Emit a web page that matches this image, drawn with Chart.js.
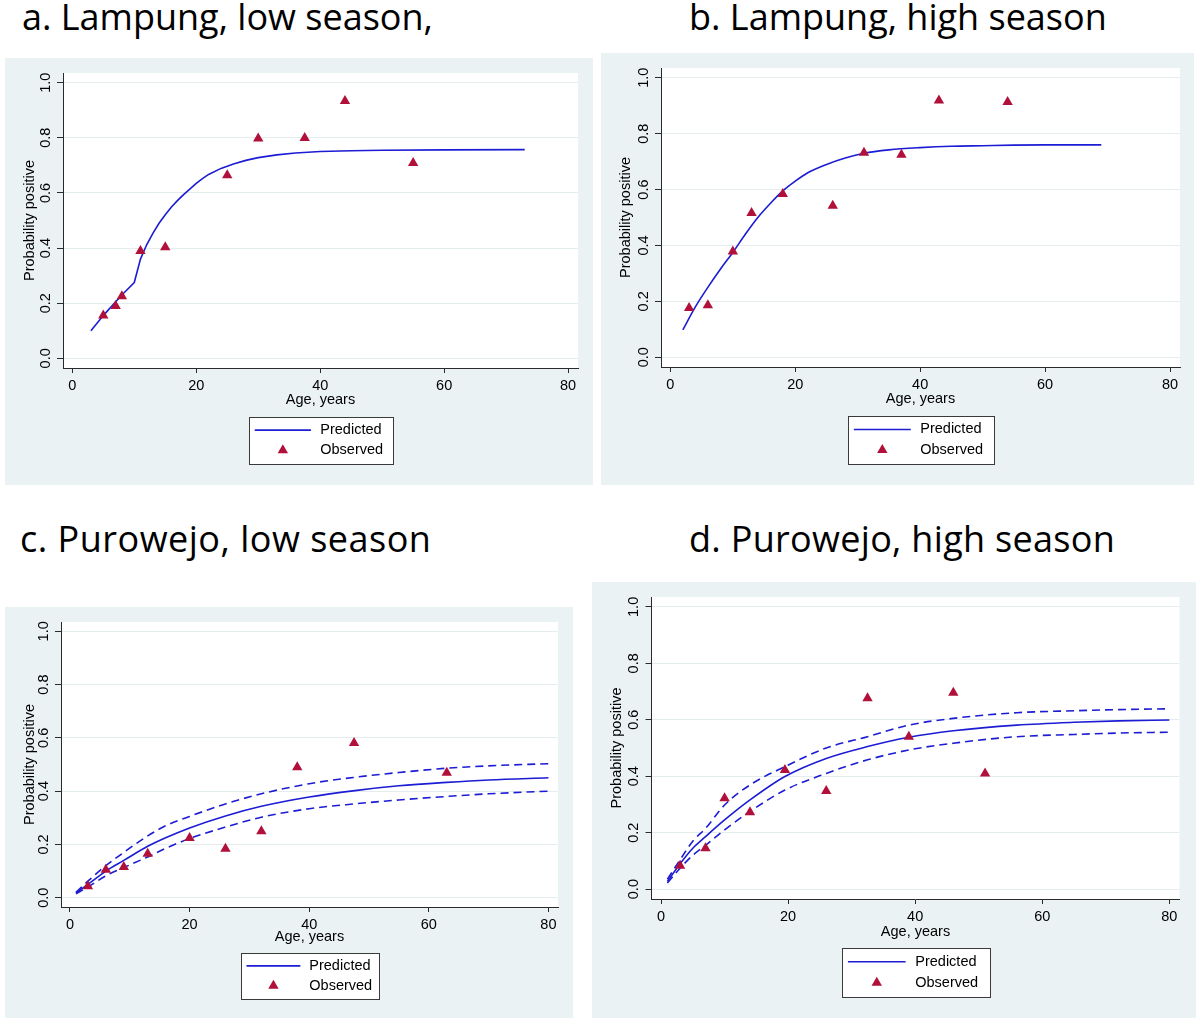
<!DOCTYPE html>
<html>
<head>
<meta charset="utf-8">
<title>Probability positive by age</title>
<script src="https://cdn.jsdelivr.net/npm/chart.js@4.4.1/dist/chart.umd.min.js"></script>
<style>
  body { margin: 0; background: #fff; }
  #page { position: relative; width: 1200px; height: 1024px; overflow: hidden; }
  .title { position: absolute; font-family: "Open Sans", sans-serif; font-size: 36px; line-height: 40px; color: #000; white-space: nowrap; }
  .panel { position: absolute; }
</style>
</head>
<body>
<div id="page">
  <div class="title" style="left:22px; top:-3px">a. Lampung, low season,</div>
  <div class="title" style="left:689px; top:-3px">b. Lampung, high season</div>
  <div class="title" style="left:20px; top:519px; letter-spacing:0.5px">c. Purowejo, low season</div>
  <div class="title" style="left:689px; top:519px; letter-spacing:0.3px">d. Purowejo, high season</div>

  <div class="panel" style="left:5px; top:58px; width:588px; height:427px"><canvas id="chartA"></canvas></div>
  <div class="panel" style="left:601px; top:53px; width:593px; height:432px"><canvas id="chartB"></canvas></div>
  <div class="panel" style="left:5px; top:607px; width:568px; height:411px"><canvas id="chartC"></canvas></div>
  <div class="panel" style="left:592px; top:582px; width:604px; height:436px"><canvas id="chartD"></canvas></div>
</div>

<script>
// axis ticks
const xTicks = [0, 20, 40, 60, 80];
const yTicks = [0, 0.2, 0.4, 0.6, 0.8, 1.0];

// a. Lampung, low season
const aObsAge = [5, 7, 8, 11, 15, 25, 30, 37.5, 44, 55];
const aObs = [0.155, 0.19, 0.225, 0.389, 0.403, 0.664, 0.797, 0.799, 0.933, 0.709];
const aFitAge = [3, 5, 7, 8, 10, 11, 12, 13, 14, 15, 16, 17, 18, 19, 20, 21, 22, 24, 26, 28, 30, 33, 36, 40, 45, 50, 60, 73];
const aFit = [0.10, 0.155, 0.205, 0.23, 0.275, 0.36, 0.412, 0.453, 0.49, 0.521, 0.549, 0.573, 0.595, 0.615, 0.635, 0.652, 0.667, 0.689, 0.705, 0.718, 0.728, 0.738, 0.745, 0.75, 0.753, 0.755, 0.756, 0.757];

// b. Lampung, high season
const bObsAge = [3, 6, 10, 13, 18, 26, 31, 37, 43, 54];
const bObs = [0.176, 0.186, 0.378, 0.516, 0.584, 0.542, 0.732, 0.725, 0.919, 0.913];
const bFitAge = [2, 4, 6, 8, 10, 12, 14, 16, 18, 20, 22, 25, 28, 31, 35, 40, 45, 50, 55, 60, 69];
const bFit = [0.098, 0.18, 0.25, 0.315, 0.375, 0.44, 0.50, 0.55, 0.595, 0.63, 0.66, 0.69, 0.713, 0.73, 0.742, 0.75, 0.755, 0.757, 0.759, 0.76, 0.76];

// c. Purowejo, low season
const cObsAge = [3, 6, 9, 13, 20, 26, 32, 38, 47.5, 63];
const cObs = [0.043, 0.105, 0.115, 0.165, 0.224, 0.184, 0.249, 0.49, 0.581, 0.469];
const cFitAge = [1, 3, 6, 9, 13, 16, 20, 26, 32, 40, 48, 55, 63, 70, 80];
const cFit = [0.018, 0.05, 0.10, 0.14, 0.193, 0.225, 0.262, 0.307, 0.343, 0.378, 0.403, 0.42, 0.433, 0.442, 0.45];
const cUpper = [0.02, 0.062, 0.12, 0.17, 0.232, 0.27, 0.305, 0.352, 0.39, 0.428, 0.453, 0.47, 0.486, 0.495, 0.503];
const cLower = [0.015, 0.04, 0.082, 0.113, 0.153, 0.185, 0.222, 0.265, 0.302, 0.334, 0.353, 0.367, 0.38, 0.39, 0.40];

// d. Purowejo, high season
const dObsAge = [3, 7, 10, 14, 19.5, 26, 32.5, 39, 46, 51];
const dObs = [0.083, 0.145, 0.322, 0.272, 0.422, 0.348, 0.676, 0.54, 0.696, 0.41];
const dFitAge = [1, 3, 5, 7, 10, 14, 19.5, 26, 32.5, 39, 46, 56, 65, 72, 80];
const dFit = [0.027, 0.09, 0.145, 0.186, 0.245, 0.316, 0.399, 0.463, 0.505, 0.538, 0.561, 0.581, 0.591, 0.596, 0.599];
const dUpper = [0.035, 0.104, 0.17, 0.215, 0.298, 0.369, 0.434, 0.50, 0.54, 0.581, 0.605, 0.625, 0.632, 0.636, 0.639];
const dLower = [0.022, 0.074, 0.12, 0.155, 0.21, 0.275, 0.351, 0.41, 0.458, 0.493, 0.517, 0.54, 0.548, 0.553, 0.556];

const BLUE = '#1c1cd4';
const RED = '#b0103a';
const GREY = '#eaf2f3';
const AXIS = '#2a2a2a';
const FONT = { family: '"Liberation Sans", Arial, sans-serif', size: 14.5 };

function pairs(xs, ys) {
    return xs.map((x, i) => ({ x: x, y: ys[i] }));
}

// grey outer region, white plot region
const plotBackground = {
    id: 'plotBackground',
    beforeDraw(chart) {
        const { ctx, chartArea, width, height } = chart;
        ctx.save();
        ctx.fillStyle = GREY;
        ctx.fillRect(0, 0, width, height);
        ctx.fillStyle = '#fff';
        ctx.fillRect(chartArea.left, chartArea.top, chartArea.right - chartArea.left, chartArea.bottom - chartArea.top);
        ctx.restore();
    }
};

// Stata style boxed legend, one key per row, under the x axis
const boxLegend = {
    id: 'boxLegend',
    afterDraw(chart, args, opts) {
        const { ctx, chartArea } = chart;
        const items = chart.data.datasets
            .filter(d => d.legendRank !== undefined)
            .sort((p, q) => p.legendRank - q.legendRank);
        const w = opts.width, h = opts.height;
        const left = Math.round((chartArea.left + chartArea.right) / 2 - w / 2);
        const top = Math.round(chartArea.bottom + opts.gap);
        ctx.save();
        ctx.fillStyle = '#fff';
        ctx.fillRect(left, top, w, h);
        ctx.strokeStyle = '#3a3a3a';
        ctx.lineWidth = 1;
        ctx.strokeRect(left + 0.5, top + 0.5, w, h);
        ctx.font = FONT.size + 'px ' + FONT.family;
        ctx.textBaseline = 'middle';
        items.forEach((d, i) => {
            const cy = top + h * (0.28 + i * 0.43);
            const x0 = left + w * 0.04, x1 = left + w * 0.43;
            if (d.showLine) {
                ctx.strokeStyle = d.borderColor;
                ctx.lineWidth = d.borderWidth;
                ctx.beginPath();
                ctx.moveTo(x0, cy);
                ctx.lineTo(x1, cy);
                ctx.stroke();
            } else {
                const cx = (x0 + x1) / 2, r = d.pointRadius;
                ctx.fillStyle = d.backgroundColor;
                ctx.beginPath();
                ctx.moveTo(cx, cy - r);
                ctx.lineTo(cx + r * 0.866, cy + r / 2);
                ctx.lineTo(cx - r * 0.866, cy + r / 2);
                ctx.closePath();
                ctx.fill();
            }
            ctx.fillStyle = '#000';
            ctx.fillText(d.label, left + w * 0.495, cy);
        });
        ctx.restore();
    }
};

function makePanel(id, geo, obsAge, obs, fitAge, fit, upper, lower) {
    // panel a has a kink at age 10, so it is drawn as plain segments
    const curve = geo.straight ? { tension: 0 } : { cubicInterpolationMode: 'monotone' };
    const datasets = [
        {
            label: 'Observed',
            data: pairs(obsAge, obs),
            showLine: false,
            pointStyle: 'triangle',
            pointRadius: 6,
            backgroundColor: RED,
            borderColor: RED,
            borderWidth: 0,
            legendRank: 1
        },
        Object.assign({
            label: 'Predicted',
            data: pairs(fitAge, fit),
            showLine: true,
            borderColor: BLUE,
            borderWidth: 1.6,
            pointRadius: 0,
            legendRank: 0
        }, curve)
    ];
    if (upper) {
        [upper, lower].forEach(band => {
            datasets.push(Object.assign({
                label: '95% CI',
                data: pairs(fitAge, band),
                showLine: true,
                borderColor: BLUE,
                borderWidth: 1.6,
                borderDash: [8, 5],
                pointRadius: 0
            }, curve));
        });
    }

    return new Chart(document.getElementById(id), {
        type: 'scatter',
        data: { datasets: datasets },
        options: {
            responsive: true,
            maintainAspectRatio: false,
            animation: false,
            events: [],
            layout: { padding: { left: 16, top: geo.top, right: geo.right, bottom: geo.bottom } },
            plugins: {
                legend: { display: false },
                tooltip: { enabled: false },
                boxLegend: geo.legend
            },
            scales: {
                x: {
                    type: 'linear',
                    position: 'bottom',
                    min: -1.5,
                    max: 81.6,
                    afterBuildTicks: s => { s.ticks = xTicks.map(v => ({ value: v })); },
                    afterFit: s => { s.height = geo.xHeight; },
                    ticks: { color: '#000', font: FONT, padding: 4, maxRotation: 0, callback: v => String(v) },
                    grid: { drawOnChartArea: false, drawTicks: true, tickLength: 5, tickColor: AXIS },
                    border: { display: true, color: AXIS, width: 1 },
                    title: { display: true, text: 'Age, years', color: '#000', font: FONT, padding: 0 }
                },
                y: {
                    type: 'linear',
                    position: 'left',
                    min: -0.035,
                    max: 1.035,
                    afterBuildTicks: s => { s.ticks = yTicks.map(v => ({ value: v })); },
                    afterFit: s => { s.width = geo.yWidth; },
                    ticks: {
                        color: '#000', font: FONT, padding: 1,
                        minRotation: 90, maxRotation: 90, crossAlign: 'center',
                        callback: v => v.toFixed(1)
                    },
                    grid: { color: '#e4ecee', lineWidth: 1, drawTicks: true, tickLength: 6, tickColor: AXIS },
                    border: { display: true, color: AXIS, width: 1 },
                    title: { display: true, text: 'Probability positive', color: '#000', font: FONT, padding: 0 }
                }
            }
        },
        plugins: [plotBackground, boxLegend]
    });
}

makePanel('chartA', { top: 15, right: 15, bottom: 76, xHeight: 41, yWidth: 42, straight: true,
    legend: { gap: 48.5, width: 144, height: 47 } }, aObsAge, aObs, aFitAge, aFit);
makePanel('chartB', { top: 15, right: 14, bottom: 77, xHeight: 41, yWidth: 44,
    legend: { gap: 48.5, width: 146, height: 48 } }, bObsAge, bObs, bFitAge, bFit);
makePanel('chartC', { top: 15, right: 15, bottom: 72, xHeight: 39, yWidth: 40,
    legend: { gap: 46, width: 138, height: 46 } }, cObsAge, cObs, cFitAge, cFit, cUpper, cLower);
makePanel('chartD', { top: 15, right: 16.5, bottom: 77.5, xHeight: 41.5, yWidth: 43.5,
    legend: { gap: 49, width: 148, height: 49 } }, dObsAge, dObs, dFitAge, dFit, dUpper, dLower);
</script>
</body>
</html>
